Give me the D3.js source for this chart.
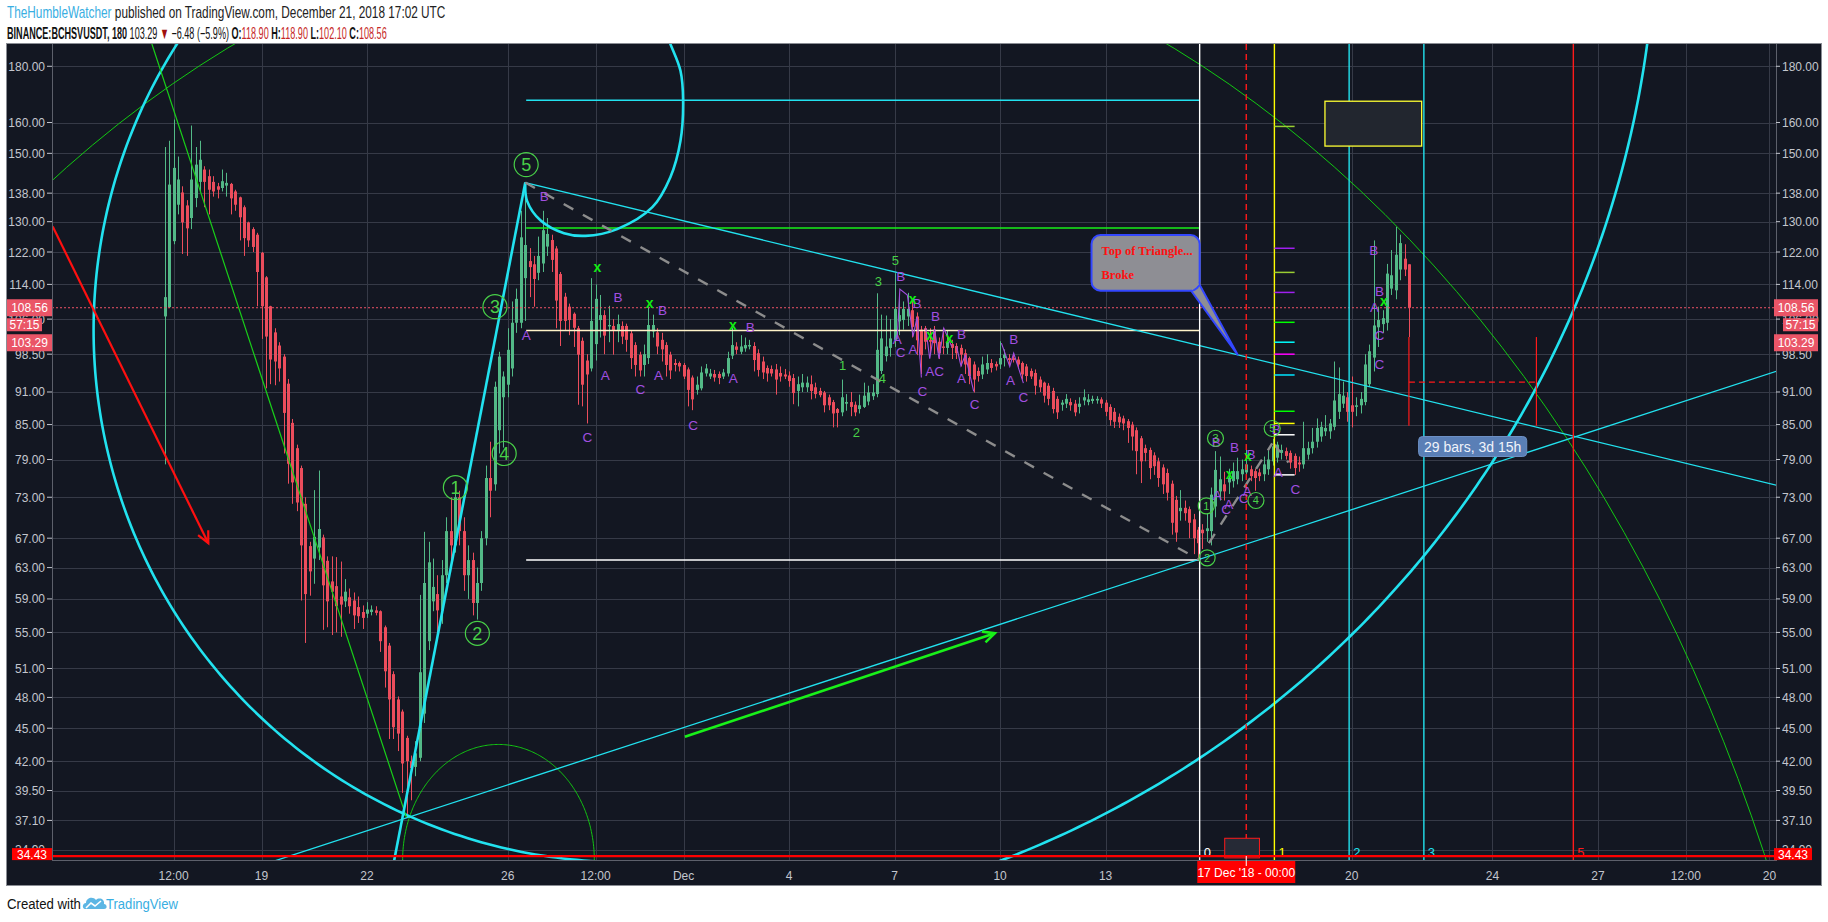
<!DOCTYPE html>
<html>
<head>
<meta charset="utf-8">
<script src="https://cdn.jsdelivr.net/npm/d3@7"></script>
<style>
  body { margin: 0; background: #fff; }
  svg { display: block; font-family: "Liberation Sans", Arial, sans-serif; }
</style>
</head>
<body>
<svg id="chart" width="1828" height="922"></svg>
<script>
// ---- data ----
// 3h candles starting 16 Nov 2018 06:00 UTC, [open, high, low, close]
const candles = [
[106.6,152,78.2,111],[108.7,154,108.5,140.5],[124.8,161,124,145.5],[134.7,149,132,142],[138.2,140,121.5,129.8],
[134.5,136,121,128.2],[131,159,128,142],[136.6,152,134,146.5],[141.3,154,138.5,148],[145,146,134,141.3],
[143,145,132,139],[141.3,143,137,138.5],[140,141,136.5,139],[139.5,145,138.5,141.5],[140.2,144,137,141],
[140.7,141,132,136.5],[138.5,139,133,134.7],[136.8,137,125,131.2],[134,134.5,121,125.6],[129.8,130,123.3,125],
[128,128.5,122,123.3],[126.5,127,108.9,117],[121.8,122,101.7,108.9],[115.7,116,91.7,102.2],[108.9,109,92.5,97.4],
[103.1,104,92.3,97],[100.3,101,93,95.6],[98,98.5,80,87.1],[92.6,93.5,75.1,78.3],[85.3,86,72,75.3],
[80.9,81.5,70.9,72.2],[77.6,78,58.8,66],[72,73,53.8,59.6],[65.9,66.5,59.4,62.5],[64.2,74.1,60.9,67.2],
[65.7,77.2,64,68.3],[67.1,67.5,55.3,60.7],[63.9,64.5,55.6,58.7],[61.2,64.5,54.7,59.9],[60.6,64.4,55,58.1],
[59.3,63.8,54.5,58.3],[58.7,61.5,58,59.9],[59.2,60.3,57.2,58.1],[58.8,59.8,55.4,57],[58,59.3,56.1,56.9],
[57.4,58.2,55.4,56.7],[57.2,58.6,56.7,57.7],[57.4,58.2,57,57.7],[57.6,58.1,57,57.3],[57.5,57.6,52.8,54],
[55.6,55.8,49,50.7],[53.5,53.8,44,47.8],[50.4,50.7,44,45.1],[47.8,48.1,42.9,44.5],[46.6,46.8,39.3,41.8],
[44.1,44.3,37.3,42],[42,42.5,38.7,41.4],[41.5,43.8,40.7,42.7],[42.3,59.5,42,50.6],[46.4,67.9,45.5,61],
[54,66.5,53,63.7],[58.7,64.2,57.5,60.5],[59.6,62,54.5,57.6],[57.6,64,56,62],[62,70,61,68],
[68,73,64,66],[66,75.5,65,73],[73,74,66,68],[68,70,60,62],[62,66,59,64],
[64,65,57,58.5],[58.5,63,56.5,61],[61,68,60,67],[67,78,66,76],[76,82,70,74],
[75,93,74,92],[84,99,80,98],[90,95,81,94],[92.4,104,90,99.4],[95.6,110,94,105.2],
[105.2,113,103,110.6],[105.2,133,104,125.8],[115.5,141.1,105.6,123.8],[119.7,123,111,118.2],[118.9,121,108.8,115.3],
[116.8,126,115,121],[119.1,133,117,127.7],[123.4,131,121,126.7],[125.1,126.5,117,120],[122.9,123.5,104,110.2],
[116.5,117,100.2,105.6],[111.1,112,103.5,105.6],[108.8,109.5,102.5,105.8],[107.2,107.5,100,104.1],[104,104.5,88.6,98.4],
[101.3,102,88.3,92.4],[97.2,98.5,85.2,94.4],[95.6,115.5,95,105.6],[100.6,114,97.2,110.6],[105.8,111.5,102,106.9],
[106.9,108,98.5,102.4],[104.4,109,101,104.7],[104.5,106,98.4,103.6],[103.6,107,101,104.9],[104.5,105.5,100.6,102.2],
[104.5,105,99,101.5],[102.9,103.5,95.5,97.7],[100.4,101,94,96.3],[98.4,99,94,95.2],[96.3,100.5,94,98.5],
[97.7,108.8,96.5,104.7],[103.3,107,102,104.7],[103.1,104,98.5,100.1],[101.5,103,97,99.5],[100.4,101,94,96.3],
[98.4,99,93.5,95.2],[96.7,97.5,95,96.3],[96.7,97,95,96],[96.3,96.7,93.5,94],[95.4,95.8,88.3,91.4],
[93.8,94.2,87.6,89.6],[91.4,94,90.5,92.4],[91.7,96,91.3,94.8],[94.6,96.5,94,95.6],[94,95.5,93.5,94.6],
[94.5,95.3,93,93.8],[94.5,95,92.5,93.7],[94,95.5,93.5,94.8],[94.6,99,94,97.7],[98.2,104.1,97.5,100.4],
[100.1,101,98.5,99.4],[99,102.5,98.5,100.1],[99.7,102,99,100.4],[100.1,101.5,99.5,100.4],[100.2,101,95,97.3],
[98.7,99.5,94,95.3],[97,98,93.5,94.8],[95.7,96.2,93,94.6],[95.5,96.2,94,94.6],[95.4,96.5,90.5,93.4],
[94.7,96,93,94],[94.4,95.5,93.5,94],[94.2,95,92,93.1],[93.7,94.5,88.7,90.8],[91.2,94,88.3,92.5],
[91.9,94.5,91,92.8],[91.9,94,91,92.8],[92.5,94.2,89.6,91.2],[91.9,92.8,89.8,90.6],[91.2,91.8,90,90.4],
[90.9,91.2,87.2,88.5],[90,90.5,87.6,88.5],[89.1,89.5,84.5,87],[87.8,88,84.5,87.1],[87.2,93.4,86.5,90],
[88.8,90.6,87.5,89.1],[89.1,91,86.5,88.2],[88.6,89.2,86.5,87.2],[87.8,90.5,87,88.5],[88.2,92.8,88,90.3],
[89.2,92.2,88.5,90.9],[90.2,92.5,89.5,90.9],[90.6,111.9,90,99.4],[95.1,107,94.5,101.8],[98.1,106.8,97,100.1],
[99.8,106,98,101.8],[101.5,116.7,100,108.3],[105.5,111.8,102.5,106.9],[105.8,110,103.7,108.3],[106.6,112,104.5,108.3],
[108,110.5,102,104.3],[106.6,107.5,98.3,101.4],[103.7,104.5,94.5,98.3],[104,104.5,99.5,101.1],[101.5,104,98.7,101.1],
[103.7,104.5,98.5,100.8],[101.1,102,97.5,98.7],[100.1,104,98.5,99.8],[99.8,103.6,98.5,101.1],[100.6,101.5,97.5,99.8],
[100.2,100.8,97.5,98.7],[99.8,100.5,96,98.4],[98.7,99.5,94.5,96.4],[97.7,98,92.5,94.1],[96.4,97,90.9,93.4],
[95.1,95.8,93,94.1],[94.4,98,93.5,96.4],[95.4,98.5,94.5,96.7],[96.7,97.5,94.8,95.7],[96.5,97,95.2,96],
[96.4,101.2,95.5,97.7],[97.7,99.5,96,98.4],[97.7,98.5,96.2,97.3],[97.7,98.4,96.8,97.3],[97.4,98,95.5,96.4],
[96.7,97,93.4,94.4],[96,96.5,93,94.1],[95.1,95.6,93.5,94],[94.7,95.4,90.5,92.2],[93.4,94,91,91.9],
[92.8,93,89,90.3],[92.2,92.7,88.5,89.7],[91.2,91.8,87,87.8],[89.7,90.2,86,87.2],[88.6,89.5,87.5,89],
[88.8,90.6,88,89.7],[89.1,89.8,87.5,88.5],[88.8,89.5,86.5,87.2],[88.2,90,87,88.8],[89.4,91.5,88.5,90],
[89.1,90.6,88.5,89.6],[89.3,90.3,88.8,89.7],[89.4,90.2,88.8,89.7],[89.6,90,88,88.8],[89,89.5,86.5,87.3],
[88.2,88.7,84.8,85.8],[87.3,88,84.4,85.5],[86.4,87,84.4,85.4],[86.1,86.6,84,85.2],[85.6,86,81.8,84.4],
[85,85.5,80.5,82.9],[84,84.5,76.6,80.4],[82.6,83,75.2,78.7],[80.9,81.5,78.7,80.1],[80.6,81,75.8,77.6],
[79.7,80.2,76.5,77.9],[78.7,79.3,74.6,76],[77.7,78.2,73.5,75],[76.8,77.5,72.5,73.7],[75.1,75.6,67.5,69.2],
[72.6,73.2,66.5,67.8],[70.9,74.1,69.5,71.4],[71.4,72.5,69.5,70.6],[71.2,71.6,67,69.2],[69.7,70.5,64.8,67],
[68.2,68.6,64.3,66.3],[68.2,69,65.5,67.7],[68,70.5,66.5,68.4],[68,74.5,66,73.4],[71.6,80.4,70,77.3],
[73.9,79.5,72.5,75.8],[75,77,72.5,73.9],[75.3,77.5,73.5,76],[75.5,78.5,74.5,77.1],[75.8,79.3,75,77.1],
[76.6,79,75.5,77.4],[76.9,81.5,76,78.2],[77.4,78,75.5,76.3],[77.1,77.5,74,76],[76.9,77.5,75.5,76.3],
[76.6,79.5,75.5,78.2],[77.4,80.5,76.5,79],[78.7,82.5,78,81.2],[79.3,82,78.5,81.5],[80.1,81.5,79,80.6],
[80.4,81,79,79.6],[80.1,80.5,77.5,78.5],[79.6,80,76.5,77.6],[78.5,79.5,77,78.2],[78.2,85.5,77.5,80.9],
[79.8,82,79,80.9],[80.9,84.4,80,82],[82,86.1,81,84.4],[82.9,85.5,82,84.6],[83.8,86.7,83,84.4],
[83.8,86,82.5,85.2],[84.6,97,84,89.4],[87.3,95.8,86,90.6],[88.8,93,88,90.3],[90,91,85.5,87.3],
[88.5,94,84.5,87.3],[88.2,90,86.5,88.5],[88.5,91,87,89.7],[89.1,98.5,88.5,96.4],[92.5,100.5,92,99.1],
[97.8,125,95,104.6],[104.2,108.8,100,105.8],[104.9,108,103,106.2],[105.2,119,103.5,116.6],[113,122.5,111.5,116.2],
[112.6,128.6,110.5,121.3],[117.6,126.5,115,124.3],[120.3,124,116,117.6],[118.9,118.9,102.1,108.56]
];
const firstBar = "2018-11-16T06:00:00Z";

const priceTicks = [180, 160, 150, 138, 130, 122, 114, 106, 98.5, 91, 85, 79, 73, 67, 63, 59, 55, 51, 48, 45, 42, 39.5, 37.1, 34.9];
const timeTicks = ["2018-11-16T12:00Z","2018-11-19T00:00Z","2018-11-22T00:00Z","2018-11-26T00:00Z","2018-11-28T12:00Z",
  "2018-12-01T00:00Z","2018-12-04T00:00Z","2018-12-07T00:00Z","2018-12-10T00:00Z","2018-12-13T00:00Z",
  "2018-12-20T00:00Z","2018-12-24T00:00Z","2018-12-27T00:00Z","2018-12-29T12:00Z","2018-12-31T21:00Z"];
const timeTickLabels = ["12:00","19","22","26","12:00","Dec","4","7","10","13","20","24","27","12:00","20"];

const lastClose = 108.56, lastPrice = 103.29, markPrice = 34.43;

// drawings, in [bar index, price]
const cyanArcs = [ // ellipse arcs: centre, x radius in bars, price on the edge, angle span
  { c: [104.8, 103.6], rx: 121.0, edge: 315.7, a: [-90, -270] },
  { c: [107.0, 251.3], rx: 232.3, edge: 29.6, a: [90, -5] }
];
const greenArcs = [
  { c: [121.9, 8.94], rx: 264.8, edge: 249.2, a: [0, 360] },
  { c: [75.9, 34.15], rx: 21.8, edge: 43.5, a: [180, 360] }
];
const peakArc = [[82.0,141.1],[82.4,135.8],[85.5,130.3],[90.8,126.9],[95.7,126.2],[102.9,128.0],[110.9,134.0],
  [115.0,142.7],[117.3,154.0],[117.9,167.5],[117.3,178.3],[115.0,188.6],[112.7,198.3]];
const waveLow = [55, 37.3], wavePeak = [82, 141.1], decLow = [235.4, 64.0];
const triangleLower = [waveLow, [365.7, 94.8]];
const triangleUpper = [wavePeak, [365.2, 75.1]];
const greenWaveLine = [[-8.7, 221.6], waveLow];
const cyanWaveLine = [[52.1, 34.0], wavePeak];
const levelSpan = [82.2, 235.4];
const levelPrices = [167.6, 128.3, 103.5, 64.0];
const levelColors = ["#22e2ef", "#19f019", "#fff3c8", "#ffffff"];
const greyDashes = [[wavePeak, decLow], [[237.5, 66.3], [251.9, 81.7]], [[252.2, 81.7], [255.6, 78.5]]];
const redArrow = [[-25.5, 128.7], [9.9, 66.3]];
const greenArrow = [[118.3, 44.2], [188.8, 54.9]];
const fibStart = 235.4, fibStep = 17;
const fibZones = [0, 1, 2, 3, 5];
const fibColors = ["#ffffff", "#ffff00", "#22e2ef", "#22e2ef", "#ff1a1a"];
const fibTickSpan = [252.4, 257.0];
const fibTickPrices = [158.7, 122.96, 116.9, 112.1, 105.3, 101.0, 98.5, 94.3, 87.4, 85.2, 83.2, 76.5];
const fibTickColors = ["#9acd32","#a020f0","#9acd32","#a020f0","#00ff00","#00ffff","#ff00ff","#00e5ff","#00ff00","#ffff00","#ffffff","#ffffff"];
const dec17 = "2018-12-17T00:00:00Z";
const dateBox = [[241.1, 35.74], [249.0, 34.3]];
const yellowBox = [[263.9, 167.3], [285.9, 152.3]];
const callout = { box: [[210.8, 126.4], [235.4, 112.5]], tip: [244.1, 98.3], baseBar: 233.3, basePrice: 114.3 };
const calloutLines = ["Top of Triangle...", "Broke"];
const range = { bars: [283, 312], prices: [102.1, 84.8], mid: 92.9, label: "29 bars, 3d 15h", box: [[285.2, 82.9], [309.8, 79.5]] };

const bigWave = [["1", 66.1, 74.5], ["2", 71.1, 54.9], ["3", 75.1, 108.8], ["4", 77.2, 80.0], ["5", 82.2, 146.5]];
const smallWave = [["1", 236.9, 71.7], ["2", 237.1, 64.3], ["3", 239.0, 82.6], ["4", 248.2, 72.5], ["5", 251.9, 84.3]];
const subWave = [["1", 154.2, 96.2], ["2", 157.3, 83.6], ["3", 162.3, 114.9], ["4", 163.2, 93.8], ["5", 166.2, 120.0]];
const abcLabels = [
  ["B",86.3,137.3],["A",82.2,102.5],["B",103.1,111.1],["A",100.2,94.3],["C",96.1,82.8],["B",113.2,108.1],["A",112.3,94.3],
  ["C",108.2,91.5],["B",133.2,104.3],["A",129.3,93.8],["C",120.2,84.9],["B",167.4,116.0],["C",167.4,98.9],["A",166.6,101.6],
  ["B",171.1,109.6],["A",170.2,99.6],["C",172.3,91.2],["B",175.3,106.7],["AC",175.1,95.0],["B",181.2,102.8],["A",181.2,93.7],
  ["C",184.2,88.7],["B",193.1,101.6],["A",192.4,93.3],["C",195.3,90.1],["B",239.2,82.0],["B",243.3,81.1],["B",247.1,79.9],
  ["B",252.8,84.3],["A",239.4,73.4],["A",242.0,72.0],["C",241.4,71.2],["A",246.2,74.0],["C",245.4,72.9],["A",253.3,77.0],
  ["C",257.2,74.2],["B",275.0,122.5],["B",276.3,112.5],["A",275.2,108.8],["C",276.3,102.5],["C",276.3,96.4]
];
const abcPaths = [
  [[166.6,101.6],[167.2,112.9],[168.9,111.5],[170.2,102.2],[171.1,106.4],[172.1,93.8]],
  [[173.1,104.0],[174.0,97.6],[175.1,103.8],[176.1,97.6],[177.2,104.0],[179.0,100.1]],
  [[180.1,100.1],[181.1,96.1],[182.1,98.3],[184.0,91.1]],
  [[190.3,100.8],[192.2,96.0],[193.1,98.7],[195.3,92.7]]
];
const crossMarks = [[98.4,117.9],[110.3,109.4],[129.2,104.5],[170.1,110.3],[174.1,102.3],[178.5,101.7],[242.2,76.4],[246.4,79.5],[277.3,109.9]];

// ---- layout ----
const svg = d3.select("#chart");
const plot = { left: 52, right: 1776, top: 44, bottom: 860 };
const BAR_MS = 3 * 3600 * 1000;
const barOf = t => (Date.parse(t) - Date.parse(firstBar)) / BAR_MS;

const x = d3.scaleLinear().domain([-25.66, 366.5]).range([plot.left, plot.right]);
const y = d3.scaleLog().domain([34.15, 188.6]).range([plot.bottom, plot.top]);
const P = d => [x(d[0]), y(d[1])];
const line = d3.line();

const UP = "#53b987", DOWN = "#eb4d5c", CYAN = "#22e2ef", PURPLE = "#a24fe0", WAVE = "#48d048";
const AXIS_TXT = "#c3c6ce", GRID = "#363a47";

// squeeze a text horizontally to the width it has in the reference
function fitWidth(sel, x0, width) {
  const w = sel.node().getComputedTextLength();
  if (w > 0) sel.attr("transform", `translate(${x0},0) scale(${width / w},1) translate(${-x0},0)`);
}

// header
const h1 = svg.append("text").attr("x", 7).attr("y", 18).attr("font-size", 16);
h1.append("tspan").attr("fill", "#38aee2").text("TheHumbleWatcher");
h1.append("tspan").attr("fill", "#222").text(" published on TradingView.com, December 21, 2018 17:02 UTC");
fitWidth(h1, 7, 439);

const h2 = svg.append("text").attr("x", 7).attr("y", 39).attr("font-size", 16).attr("fill", "#111");
h2.append("tspan").attr("font-weight", "bold").text("BINANCE:BCHSVUSDT, 180");
h2.append("tspan").text(" 103.29 ");
h2.append("tspan").attr("fill", "#a01010").text("▼");
h2.append("tspan").text(" −6.48 (−5.9%) ");
[["O:", "118.90"], [" H:", "118.90"], [" L:", "102.10"], [" C:", "108.56"]].forEach(([k, v]) => {
  h2.append("tspan").attr("font-weight", "bold").text(k);
  h2.append("tspan").attr("fill", "#c62828").text(v);
});
fitWidth(h2, 7, 380);

// frame
svg.append("rect").attr("x", 6.5).attr("y", 43.5).attr("width", 1815).attr("height", 842)
  .attr("fill", "#131722").attr("stroke", "#8a8d94");

svg.append("defs").append("clipPath").attr("id", "plotClip").append("rect")
  .attr("x", plot.left).attr("y", plot.top).attr("width", plot.right - plot.left).attr("height", plot.bottom - plot.top);

const g = svg.append("g").attr("clip-path", "url(#plotClip)");

// grid
g.selectAll("line.hgrid").data(priceTicks).enter().append("line")
  .attr("x1", plot.left).attr("x2", plot.right)
  .attr("y1", d => Math.round(y(d)) + 0.5).attr("y2", d => Math.round(y(d)) + 0.5)
  .attr("stroke", GRID);
g.selectAll("line.vgrid").data(timeTicks).enter().append("line")
  .attr("y1", plot.top).attr("y2", plot.bottom)
  .attr("x1", d => Math.round(x(barOf(d))) + 0.5).attr("x2", d => Math.round(x(barOf(d))) + 0.5)
  .attr("stroke", GRID);

// candles
const cg = g.append("g");
candles.forEach((c, i) => {
  const [o, h, l, cl] = c;
  const col = cl >= o ? UP : DOWN;
  const cx = Math.round(x(i));
  cg.append("line").attr("x1", cx + 0.5).attr("x2", cx + 0.5).attr("y1", y(h)).attr("y2", y(l)).attr("stroke", col);
  const top = y(Math.max(o, cl)), bot = y(Math.min(o, cl));
  cg.append("rect").attr("x", cx - 1).attr("width", 3).attr("y", top).attr("height", Math.max(1, bot - top)).attr("fill", col);
});

// current price line
g.append("line").attr("x1", plot.left).attr("x2", plot.right)
  .attr("y1", y(lastClose)).attr("y2", y(lastClose))
  .attr("stroke", "#ef5366").attr("stroke-dasharray", "2,2");

// helpers
function ellipsePath(e) {
  const cx = x(e.c[0]), cy = y(e.c[1]);
  const rx = x(e.c[0] + e.rx) - cx, ry = Math.abs(y(e.edge) - cy);
  const pts = d3.range(241).map(k => {
    const t = (e.a[0] + (e.a[1] - e.a[0]) * k / 240) * Math.PI / 180;
    return [cx + rx * Math.cos(t), cy + ry * Math.sin(t)];
  });
  return line(pts);
}
function extended(a, b, mode) {
  const A = P(a), B = P(b);
  const dx = B[0] - A[0], dy = B[1] - A[1], L = Math.hypot(dx, dy);
  const ux = dx / L, uy = dy / L, far = 4000;
  const s = mode === "both" ? [A[0] - ux * far, A[1] - uy * far] : A;
  const e = mode ? [B[0] + ux * far, B[1] + uy * far] : B;
  return line([s, e]);
}
function arrow(pts, color, w) {
  const A = P(pts[0]), B = P(pts[1]);
  const ang = Math.atan2(B[1] - A[1], B[0] - A[0]);
  const hl = 13, sp = 0.45;
  g.append("path").attr("d", line([A, B])).attr("stroke", color).attr("stroke-width", w).attr("fill", "none");
  g.append("path").attr("d", line([
    [B[0] - hl * Math.cos(ang - sp), B[1] - hl * Math.sin(ang - sp)], B,
    [B[0] - hl * Math.cos(ang + sp), B[1] - hl * Math.sin(ang + sp)]
  ])).attr("stroke", color).attr("stroke-width", w).attr("fill", "none");
}

// horizontal levels
levelPrices.forEach((p, i) => {
  g.append("line").attr("x1", x(levelSpan[0])).attr("x2", x(levelSpan[1]))
    .attr("y1", y(p)).attr("y2", y(p)).attr("stroke", levelColors[i]).attr("stroke-width", 1.5);
});

// ellipses / arcs
greenArcs.forEach(e => g.append("path").attr("d", ellipsePath(e)).attr("fill", "none").attr("stroke", "#12c812").attr("stroke-width", 1));
cyanArcs.forEach(e => g.append("path").attr("d", ellipsePath(e)).attr("fill", "none").attr("stroke", CYAN).attr("stroke-width", 2.6));
g.append("path").attr("d", d3.line().curve(d3.curveCatmullRom)(peakArc.map(P)))
  .attr("fill", "none").attr("stroke", CYAN).attr("stroke-width", 2.6);

// trend lines
g.append("path").attr("d", extended(greenWaveLine[0], greenWaveLine[1])).attr("stroke", "#19d019").attr("stroke-width", 1.2);
g.append("path").attr("d", extended(triangleLower[0], triangleLower[1], "both")).attr("stroke", CYAN).attr("stroke-width", 1.3);
g.append("path").attr("d", extended(triangleUpper[0], triangleUpper[1], "right")).attr("stroke", CYAN).attr("stroke-width", 1.3);
g.append("path").attr("d", extended(cyanWaveLine[0], cyanWaveLine[1])).attr("stroke", CYAN).attr("stroke-width", 2.6);
greyDashes.forEach(seg => g.append("path").attr("d", line(seg.map(P)))
  .attr("stroke", "#8c8c8c").attr("stroke-width", 2.4).attr("stroke-dasharray", "11,11"));

arrow(redArrow, "#ff1010", 2.2);
arrow(greenArrow, "#19f019", 2.6);

// fib time zones
fibZones.forEach((z, i) => {
  const fx = x(fibStart + z * fibStep);
  g.append("line").attr("x1", fx).attr("x2", fx).attr("y1", plot.top).attr("y2", plot.bottom)
    .attr("stroke", fibColors[i]).attr("stroke-width", 1.4);
  g.append("text").attr("x", fx + 4).attr("y", 857).attr("font-size", 13).attr("fill", fibColors[i]).text(z);
});
fibTickPrices.forEach((p, i) => {
  g.append("line").attr("x1", x(fibTickSpan[0])).attr("x2", x(fibTickSpan[1]))
    .attr("y1", y(p)).attr("y2", y(p)).attr("stroke", fibTickColors[i]).attr("stroke-width", 1.5);
});

// 17 Dec marker
const dx17 = x(barOf(dec17));
g.append("line").attr("x1", dx17).attr("x2", dx17).attr("y1", plot.top).attr("y2", plot.bottom)
  .attr("stroke", "#ff1a1a").attr("stroke-width", 1.4).attr("stroke-dasharray", "6,4");
g.append("rect").attr("x", x(dateBox[0][0])).attr("y", y(dateBox[0][1]))
  .attr("width", x(dateBox[1][0]) - x(dateBox[0][0])).attr("height", y(dateBox[1][1]) - y(dateBox[0][1]))
  .attr("fill", "#262a36").attr("stroke", "#ff1a1a");

// yellow box
g.append("rect").attr("x", x(yellowBox[0][0])).attr("y", y(yellowBox[0][1]))
  .attr("width", x(yellowBox[1][0]) - x(yellowBox[0][0])).attr("height", y(yellowBox[1][1]) - y(yellowBox[0][1]))
  .attr("fill", "#22262f").attr("stroke", "#ffff33").attr("stroke-width", 1.3);

// price / date range
range.bars.forEach(b => g.append("line").attr("x1", x(b)).attr("x2", x(b))
  .attr("y1", y(range.prices[0])).attr("y2", y(range.prices[1])).attr("stroke", "#ff1a1a").attr("stroke-width", 1.2));
g.append("line").attr("x1", x(range.bars[0])).attr("x2", x(range.bars[1]))
  .attr("y1", y(range.mid)).attr("y2", y(range.mid)).attr("stroke", "#ff1a1a").attr("stroke-width", 1.4).attr("stroke-dasharray", "6,4");
const rb = range.box;
g.append("rect").attr("x", x(rb[0][0])).attr("y", y(rb[0][1])).attr("rx", 4)
  .attr("width", x(rb[1][0]) - x(rb[0][0])).attr("height", y(rb[1][1]) - y(rb[0][1]))
  .attr("fill", "#5a7fb6").attr("stroke", "#6d90c4");
g.append("text").attr("x", (x(rb[0][0]) + x(rb[1][0])) / 2).attr("y", (y(rb[0][1]) + y(rb[1][1])) / 2 + 5)
  .attr("text-anchor", "middle").attr("font-size", 14).attr("fill", "#f0f3fa").text(range.label);

// callout
const cb = callout.box;
const bx0 = x(cb[0][0]), by0 = y(cb[0][1]), bx1 = x(cb[1][0]), by1 = y(cb[1][1]);
g.append("path").attr("d", line([[x(callout.baseBar), by1 - 1], P(callout.tip), [bx1 - 1, y(callout.basePrice)]]) + "Z")
  .attr("fill", "#8e8e94").attr("stroke", "#3347ff").attr("stroke-width", 2);
g.append("rect").attr("x", bx0).attr("y", by0).attr("width", bx1 - bx0).attr("height", by1 - by0).attr("rx", 9)
  .attr("fill", "#8e8e94").attr("stroke", "#3347ff").attr("stroke-width", 2);
g.append("path").attr("d", line([[x(callout.baseBar) + 1, by1 - 1.5], [bx1 - 1.5, y(callout.basePrice)]]))
  .attr("stroke", "#8e8e94").attr("stroke-width", 3);
calloutLines.forEach((t, i) => g.append("text").attr("x", bx0 + 10).attr("y", by0 + 20 + i * 24)
  .attr("font-family", "'Liberation Serif', serif").attr("font-weight", "bold").attr("font-size", 12.5)
  .attr("fill", "#ff1010").text(t));

// ABC zigzags and labels
abcPaths.forEach(pts => g.append("path").attr("d", line(pts.map(P))).attr("fill", "none").attr("stroke", PURPLE).attr("stroke-width", 1.1));
g.selectAll("text.abc").data(abcLabels).enter().append("text")
  .attr("x", d => x(d[1])).attr("y", d => y(d[2]) + 5).attr("text-anchor", "middle")
  .attr("font-size", 13.5).attr("fill", PURPLE).text(d => d[0]);

// green crosses
g.selectAll("text.cross").data(crossMarks).enter().append("text")
  .attr("x", d => x(d[0])).attr("y", d => y(d[1]) + 4).attr("text-anchor", "middle")
  .attr("font-size", 14).attr("font-weight", "bold").attr("fill", "#12ee12").text("x");

// wave counts
function waveLabel(d, r, fs) {
  const wx = x(d[1]), wy = y(d[2]);
  g.append("circle").attr("cx", wx).attr("cy", wy).attr("r", r).attr("fill", "none").attr("stroke", WAVE).attr("stroke-width", 1.2);
  g.append("text").attr("x", wx).attr("y", wy + fs * 0.36).attr("text-anchor", "middle").attr("font-size", fs).attr("fill", WAVE).text(d[0]);
}
bigWave.forEach(d => waveLabel(d, 12, 18));
smallWave.forEach(d => waveLabel(d, 8, 11));
subWave.forEach(d => g.append("text").attr("x", x(d[1])).attr("y", y(d[2]) + 5).attr("text-anchor", "middle")
  .attr("font-size", 13).attr("fill", WAVE).text(d[0]));

// bottom price line 34.43
g.append("line").attr("x1", plot.left).attr("x2", plot.right).attr("y1", y(markPrice)).attr("y2", y(markPrice))
  .attr("stroke", "#ff0000").attr("stroke-width", 2.2);

// axis borders
svg.append("line").attr("x1", plot.left + 0.5).attr("x2", plot.left + 0.5).attr("y1", plot.top).attr("y2", plot.bottom).attr("stroke", "#5d606b");
svg.append("line").attr("x1", plot.right + 0.5).attr("x2", plot.right + 0.5).attr("y1", plot.top).attr("y2", plot.bottom).attr("stroke", "#5d606b");
svg.append("line").attr("x1", plot.left).attr("x2", plot.right + 1).attr("y1", plot.bottom + 0.5).attr("y2", plot.bottom + 0.5).attr("stroke", "#5d606b");

// price axes
const ax = svg.append("g").attr("font-size", 12).attr("fill", AXIS_TXT);
priceTicks.forEach(p => {
  const py = y(p);
  ax.append("text").attr("x", 45).attr("y", py + 4.5).attr("text-anchor", "end").text(p.toFixed(2));
  ax.append("text").attr("x", 1782).attr("y", py + 4.5).text(p.toFixed(2));
  ax.append("line").attr("x1", 47).attr("x2", 52).attr("y1", py).attr("y2", py).attr("stroke", AXIS_TXT);
  ax.append("line").attr("x1", 1776).attr("x2", 1780).attr("y1", py).attr("y2", py).attr("stroke", AXIS_TXT);
});

// time axis
timeTicks.forEach((t, i) => {
  ax.append("text").attr("x", x(barOf(t))).attr("y", 880).attr("text-anchor", "middle").text(timeTickLabels[i]);
});
svg.append("rect").attr("x", dx17 - 49).attr("y", 861).attr("width", 98).attr("height", 22).attr("fill", "#ff0000");
svg.append("line").attr("x1", dx17).attr("x2", dx17).attr("y1", 856).attr("y2", 866).attr("stroke", "#fff");
svg.append("text").attr("x", dx17).attr("y", 877).attr("text-anchor", "middle").attr("font-size", 12)
  .attr("fill", "#fff").text("17 Dec '18 - 00:00");

// price tags
function tag(x0, w, yc, h, fill, text) {
  svg.append("rect").attr("x", x0).attr("y", yc - h / 2).attr("width", w).attr("height", h).attr("fill", fill);
  svg.append("text").attr("x", x0 + w / 2).attr("y", yc + 4.5).attr("text-anchor", "middle")
    .attr("font-size", 12).attr("fill", "#fff").text(text);
}
const yc1 = y(lastClose);
const countdown = "57:15";
tag(7, 45, yc1, 17, "#ea5567", lastClose.toFixed(2));
tag(7, 35, yc1 + 17, 13, "#ea5567", countdown);
tag(7, 45, yc1 + 35, 17, "#ea5567", lastPrice.toFixed(2));
tag(1774, 44, yc1, 17, "#ea5567", lastClose.toFixed(2));
tag(1783, 35, yc1 + 17, 13, "#ea5567", countdown);
tag(1774, 44, yc1 + 35, 17, "#ea5567", lastPrice.toFixed(2));
tag(12, 40, y(markPrice) - 2, 12, "#ff0000", markPrice.toFixed(2));
tag(1774, 38, y(markPrice) - 2, 12, "#ff0000", markPrice.toFixed(2));

// footer
const cw = svg.append("text").attr("x", 7).attr("y", 909).attr("font-size", 15).attr("fill", "#111").text("Created with");
fitWidth(cw, 7, 74);
const logo = svg.append("g").attr("transform", "translate(83,896)");
logo.append("path").attr("d", "M2,13 C-1,13 -1,7 3,7 C3,2 10,0 13,4 C16,1 22,3 21,8 C24,8 25,13 21,13 Z").attr("fill", "#5cb6e4");
logo.append("path").attr("d", "M3,12 L8,7 L12,10 L18,5").attr("fill", "none").attr("stroke", "#fff").attr("stroke-width", 1.6);
const tv = svg.append("text").attr("x", 106).attr("y", 909).attr("font-size", 15).attr("fill", "#38aee2").text("TradingView");
fitWidth(tv, 106, 72);
</script>
</body>
</html>
